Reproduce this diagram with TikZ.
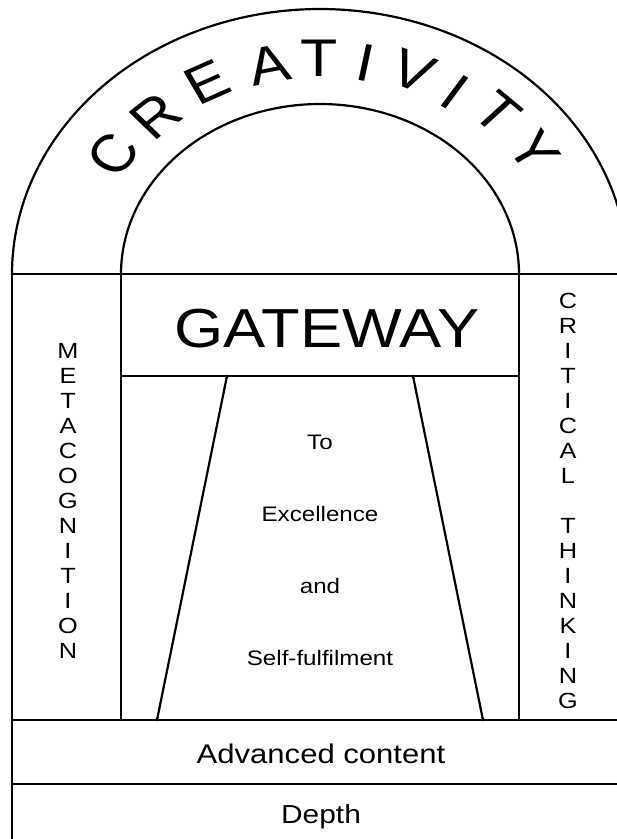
\documentclass[tikz,border=0pt]{standalone}
\usepackage{fontspec}
\setmainfont{Liberation Sans}[FakeStretch=1.15]
\newfontfamily\arcfont{Liberation Sans}
\begin{document}
\begin{tikzpicture}[x=1pt,y=-1pt,
  wall/.style={line width=2.2pt, line cap=rect},
  txt/.style={inner sep=0pt, anchor=base},
  stack/.style={inner sep=0pt, anchor=north, align=center,
    font=\fontsize{22}{25}\selectfont},
  arcletter/.style={inner sep=0pt, anchor=center,
    font=\arcfont\fontsize{53}{53}\selectfont}]
\useasboundingbox (0,0) rectangle (617,839);
\clip (0,0) rectangle (617,839);

% outer and inner arches (half ellipses on the springing line y=274)
\draw[wall] plot[domain=180:0, samples=120, smooth]
  ({320+308*cos(\x)}, {274-265*sin(\x)});
\draw[wall] plot[domain=180:0, samples=120, smooth]
  ({320+199*cos(\x)}, {274-170*sin(\x)});

% walls and floors
\coordinate (ol) at (12,274);
\coordinate (olb) at (12,839);
\coordinate (sr) at (625,274);
\coordinate (il) at (121,274);
\coordinate (ilb) at (121,720);
\coordinate (ir) at (519,274);
\coordinate (irb) at (519,720);
\coordinate (gl) at (121,376);
\coordinate (gr) at (519,376);
\coordinate (ptl) at (227,376);
\coordinate (ptr) at (413,376);
\coordinate (pbl) at (157,720);
\coordinate (pbr) at (483,720);
\coordinate (f1l) at (12,720);
\coordinate (f1r) at (625,720);
\coordinate (f2l) at (12,784);
\coordinate (f2r) at (625,784);

\draw[wall] (ol) -- (olb);
\draw[wall] (ol) -- (sr);
\draw[wall] (il) -- (ilb);
\draw[wall] (ir) -- (irb);
\draw[wall] (gl) -- (gr);
\draw[wall] (ptl) -- (pbl);
\draw[wall] (ptr) -- (pbr);
\draw[wall] (f1l) -- (f1r);
\draw[wall] (f2l) -- (f2r);

% labels
\node[txt, font=\fontsize{55}{55}\selectfont] (gateway) at (327,347) {GATEWAY};
\node[txt, font=\fontsize{21}{21}\selectfont] (to) at (320,449) {To};
\node[txt, font=\fontsize{21}{21}\selectfont] (excellence) at (320,521) {Excellence};
\node[txt, font=\fontsize{21}{21}\selectfont] (and) at (320,593) {and};
\node[txt, font=\fontsize{21}{21}\selectfont] (self) at (320,665) {Self-fulfilment};
\node[txt, font=\fontsize{27}{27}\selectfont] (advanced) at (321,763) {Advanced content};
\node[txt, font=\fontsize{26}{26}\selectfont] (depth) at (321,823) {Depth};

\node[stack] (meta) at (68,343)
  {M\\E\\T\\A\\C\\O\\G\\N\\I\\T\\I\\O\\N};
\node[stack] (critical) at (568,293)
  {C\\R\\I\\T\\I\\C\\A\\L\\\strut\\T\\H\\I\\N\\K\\I\\N\\G};

% lettering along the outer arch: each letter turned to the arch, then
% widened like the rest of the drawing
\foreach \ch/\px/\py/\rot [count=\i] in
  {C/113/154/56.4, R/156/116/42, E/207.5/82.5/27, A/268.5/65/12.1,
   T/319/58/0, I/365.5/62.5/-10.6, V/413.5/71/-21.8, I/455/92.5/-32.9,
   T/497/112.5/-43.7, Y/534.5/151/-56.6}
  \node[arcletter, xscale=1.15, rotate=\rot] (arc\i) at (\px,\py) {\ch};
\end{tikzpicture}
\end{document}
